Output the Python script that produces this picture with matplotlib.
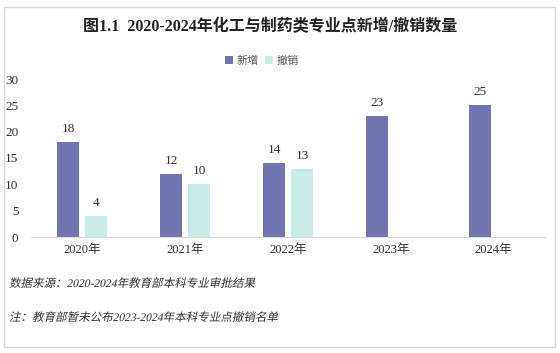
import numpy as np
import matplotlib.pyplot as plt
from matplotlib.patches import Rectangle
from matplotlib.patheffects import AbstractPathEffect
from matplotlib.transforms import Affine2D

plt.rcParams['font.family'] = ['Liberation Serif', 'Noto Sans CJK SC', 'DejaVu Sans']

# データ
years = ['2020年', '2021年', '2022年', '2023年', '2024年']
new_pts = [18, 12, 14, 23, 25]
removed_pts = [4, 10, 13, None, None]
yticks = [0, 5, 10, 15, 20, 25, 30]

c_new = '#7376AE'
c_rem = '#C8ECEA'


# 斜体 (CJK フォントに斜体が無いので傾ける)
class Slant(AbstractPathEffect):
    def __init__(self, deg=12):
        super().__init__()
        self.deg = deg

    def draw_path(self, renderer, gc, tpath, affine, rgbFace=None):
        renderer.draw_path(gc, tpath, Affine2D().skew_deg(self.deg, 0) + affine, rgbFace)


fig = plt.figure(figsize=(5.6, 3.53), dpi=100)
fig.patches.append(Rectangle((4 / 560, 1 - 347 / 353), 551 / 560, 340 / 353,
                             transform=fig.transFigure, fill=False,
                             edgecolor='#D9D9D9', linewidth=1.0))

ax = fig.add_axes([31 / 560, 1 - 237 / 353, 514 / 560, 158 / 353])

x = np.arange(len(years))
w = 0.214
off = 0.136
for i, (n, r) in enumerate(zip(new_pts, removed_pts)):
    ax.bar(x[i] - off, n, w, color=c_new, label='新增' if i == 0 else None)
    ax.text(x[i] - off, n + 1.3, str(n), ha='center', va='bottom', fontsize=9.5, color='#333333')
    if r is not None:
        ax.bar(x[i] + off, r, w, color=c_rem, label='撤销' if i == 0 else None)
        ax.text(x[i] + off, r + 1.3, str(r), ha='center', va='bottom', fontsize=9.5, color='#333333')

ax.set_xlim(-0.5, len(years) - 0.5)
ax.set_ylim(0, 30)
ax.set_yticks(yticks)
ax.set_xticks(x)
ax.set_xticklabels(years, fontsize=9, color='#333333')
ax.tick_params(axis='y', length=0, labelsize=9.5, labelcolor='#333333', pad=9)
ax.tick_params(axis='x', length=0, pad=5)
for s in ['top', 'right', 'left']:
    ax.spines[s].set_visible(False)
ax.spines['bottom'].set_color('#D9D9D9')

fig.text(0.482, 1 - 27 / 353, '图1.1  2020-2024年化工与制药类专业点新增/撤销数量',
         ha='center', va='center', fontsize=11.5, fontweight='bold', color='#222222')

fig.legend(loc='center', bbox_to_anchor=(262 / 560, 1 - 61 / 353), ncol=2, frameon=False,
           fontsize=8, handlelength=0.7, handleheight=0.7, handletextpad=0.3,
           columnspacing=0.6, labelcolor='#555555')

fig.text(9 / 560, 1 - 284 / 353, '数据来源：2020-2024年教育部本科专业审批结果',
         ha='left', va='center', fontsize=8.3, color='#333333', path_effects=[Slant()])
fig.text(9 / 560, 1 - 318 / 353, '注：教育部暂未公布2023-2024年本科专业点撤销名单',
         ha='left', va='center', fontsize=8.3, color='#333333', path_effects=[Slant()])

fig.savefig('out.png', dpi=100)
